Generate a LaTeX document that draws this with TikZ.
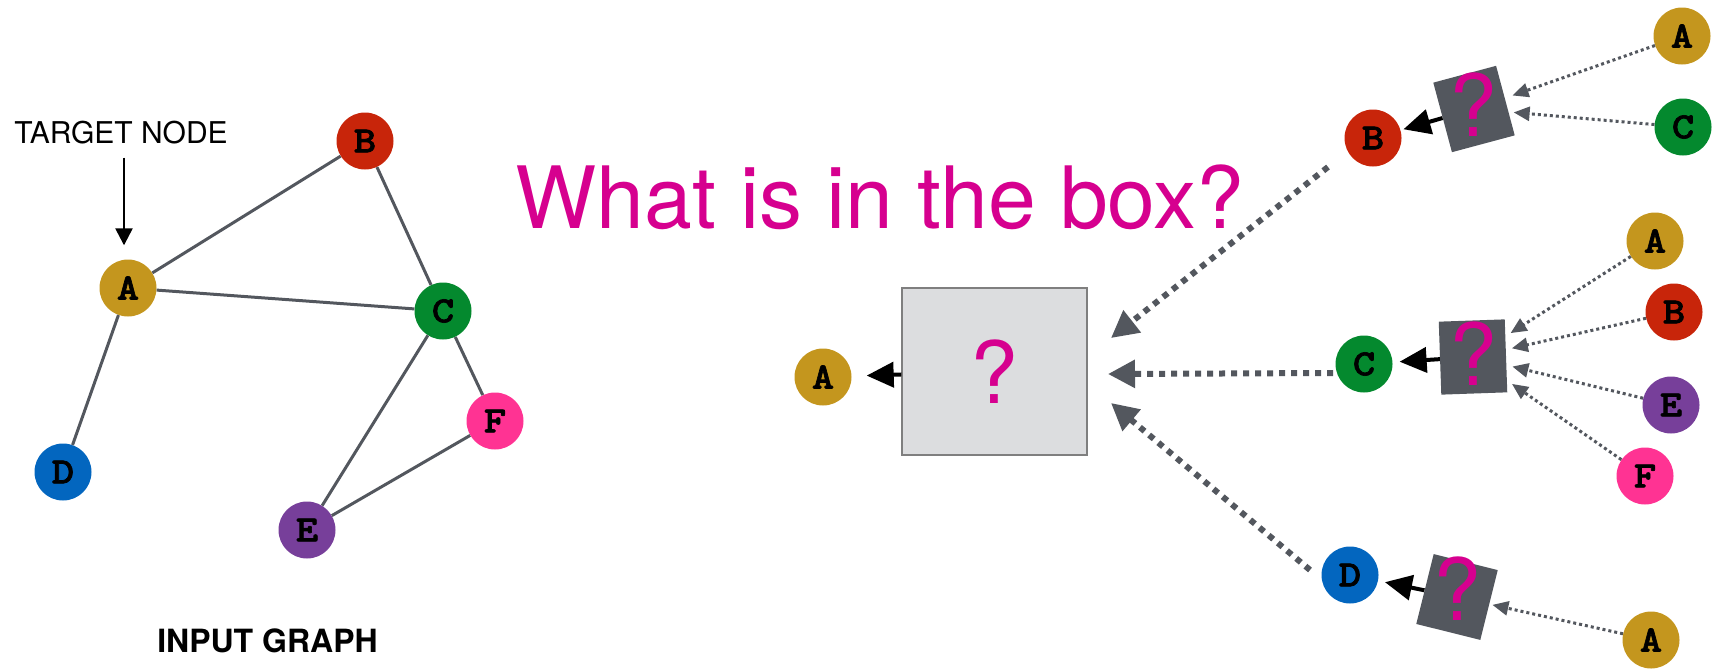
\documentclass[tikz,border=0pt]{standalone}
\usepackage{fontspec}
\setmainfont{TeX Gyre Heros}
\newfontfamily\lmbold{lmmonolt10-bold.otf}[FakeBold=1.8, FakeStretch=1.15]
\usetikzlibrary{arrows.meta}
\definecolor{cA}{HTML}{C4961E}
\definecolor{cB}{HTML}{C8250A}
\definecolor{cC}{HTML}{04892E}
\definecolor{cD}{HTML}{0366BF}
\definecolor{cE}{HTML}{773F9A}
\definecolor{cF}{HTML}{FF3393}
\definecolor{qmag}{HTML}{D6008F}
\definecolor{lgray}{HTML}{53575E}
\definecolor{lightbox}{HTML}{DCDDDF}
\definecolor{bgray}{HTML}{7F7F7F}
\newcommand{\nodefont}{\fontsize{37}{37}\selectfont\lmbold}
\newcommand{\qfont}{\fontsize{86}{90}\selectfont}
\tikzset{
  gnode/.style={circle, minimum size=57pt, inner sep=0pt, fill=#1, font=\nodefont},
  gedge/.style={draw=lgray, line width=3pt},
  qbox/.style={fill=lgray, minimum width=65pt, minimum height=72pt, inner sep=0pt},
  qmark/.style={text=qmag, font=\qfont, anchor=base, inner sep=0pt},
  blackarr/.style={draw=black, line width=4pt, -{Triangle[length=27pt,width=25pt]}},
  smalldot/.style={draw=lgray, line width=3pt, dash pattern=on 3pt off 3pt, -{Triangle[length=16pt,width=14pt]}},
  bigdot/.style={draw=lgray, line width=6pt, dash pattern=on 6pt off 6pt, -{Triangle[length=27pt,width=27pt]}},
}
\begin{document}
\begin{tikzpicture}[x=1pt,y=-1pt]
\useasboundingbox (0,0) rectangle (1718,670);
% ---------------- input graph ----------------
\node[gnode=cA] (A) at (128,288) {A};
\node[gnode=cB] (B) at (365,141) {B};
\node[gnode=cC] (C) at (443,311) {C};
\node[gnode=cD] (D) at (63,472) {D};
\node[gnode=cE] (E) at (307,530) {E};
\node[gnode=cF] (F) at (495,421) {F};
\draw[gedge] (A) -- (B);
\draw[gedge] (A) -- (C);
\draw[gedge] (A) -- (D);
\draw[gedge] (B) -- (C);
\draw[gedge] (C) -- (E);
\draw[gedge] (C) -- (F);
\draw[gedge] (E) -- (F);
\node[anchor=base, inner sep=0pt, font=\fontsize{30}{30}\selectfont] (tn) at (121,143) {TARGET NODE};
\draw[line width=2.5pt, -{Triangle[length=17pt,width=17pt]}] ([xshift=3pt,yshift=-14pt]tn.south) -- ([xshift=-4pt,yshift=14pt]A.north);
\node[anchor=base, inner sep=0pt, font=\fontsize{32}{32}\selectfont\bfseries] (ig) at (267.5,652) {INPUT GRAPH};
% ---------------- title ----------------
\node[qmark] (title) at (880,228) {What is in the box?};
% ---------------- big box ----------------
\node[draw=bgray, line width=1.2pt, fill=lightbox, minimum width=185pt, minimum height=167pt, inner sep=0pt, text=qmag, font=\qfont] (big) at (994.5,371.5) {?};
\node[gnode=cA] (A0) at (823,377) {A};
\draw[blackarr, shorten >=15pt] (big) -- (A0);
\coordinate (sB) at (1328,167);
\coordinate (tB) at (1111,338);
\coordinate (sC) at (1333,373);
\coordinate (tC) at (1108,374);
\coordinate (sD) at (1310,570);
\coordinate (tD) at (1111,403);
\draw[bigdot] (sB) -- (tB);
\draw[bigdot] (sC) -- (tC);
\draw[bigdot] (sD) -- (tD);
% ---------------- branch B ----------------
\node[gnode=cB] (B1) at (1373,138) {B};
\node[gnode=cA] (A1) at (1682,36) {A};
\node[gnode=cC] (C1) at (1683,127) {C};
\node[qbox, rotate=15] (box1) at (1474,109) {};
\draw[smalldot, shorten >=8pt] (A1) -- (box1);
\draw[smalldot, shorten >=5pt] (C1) -- (box1);
\draw[blackarr, shorten >=3pt] (box1) -- (B1);
\node[qmark] (q1) at (1473,136) {?};
% ---------------- branch C ----------------
\node[gnode=cC] (C2) at (1364,364) {C};
\node[gnode=cA] (A2) at (1655,241) {A};
\node[gnode=cB] (B2) at (1674,312) {B};
\node[gnode=cE] (E2) at (1671,405) {E};
\node[gnode=cF] (F2) at (1645,476) {F};
\node[qbox, minimum width=66pt, minimum height=73pt, rotate=2] (box2) at (1473,357) {};
\draw[smalldot, shorten >=6pt] (A2) -- (box2);
\draw[smalldot, shorten >=6pt] (B2) -- (box2);
\draw[smalldot, shorten >=6pt] (E2) -- (box2);
\draw[smalldot, shorten >=6pt] (F2) -- (box2);
\draw[blackarr, shorten >=7pt] (box2) -- (C2);
\node[qmark] (q2) at (1473,385) {?};
% ---------------- branch D ----------------
\node[gnode=cD] (D3) at (1350,575) {D};
\node[gnode=cA] (A3) at (1651,640) {A};
\node[qbox, minimum width=66pt, rotate=-14] (box3) at (1457,597) {};
\draw[smalldot, shorten >=3pt] (A3) -- (box3);
\draw[blackarr, shorten >=7pt] (box3) -- (D3);
\node[qmark] (q3) at (1457,620) {?};
\end{tikzpicture}
\end{document}
